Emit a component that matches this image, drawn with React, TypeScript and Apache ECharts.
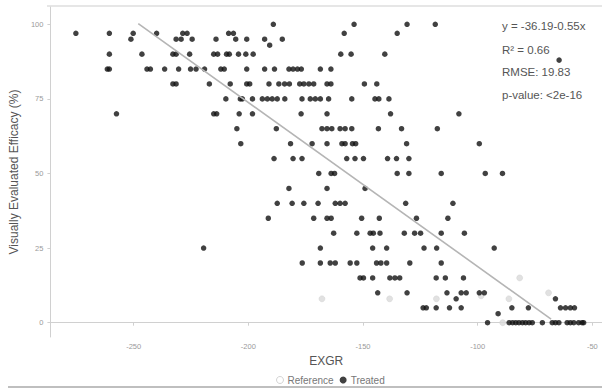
import React, { useEffect, useRef } from "react";
import * as echarts from "echarts";

// ---- data ----
const xTicks = [-250, -200, -150, -100, -50];
const yTicks = [0, 25, 50, 75, 100];

// Treated points, grouped by efficacy level (y) with their EXGR values (x)
const treatedLevels = [100, 97, 95, 93, 90, 88, 85, 80, 75, 70, 65, 60, 55, 50, 45, 40, 35, 30, 25, 20, 15, 10, 8, 5, 3, 0];
const treatedXByLevel = [
  [-189.1, -153.9, -130.8, -118.5],
  [-275.2, -260.6, -250.2, -240, -228.6, -226.7, -208.6, -206.5, -158.2, -135.1],
  [-251.2, -231.5, -229.3, -224.5, -214.1, -205.5, -200.7, -192.9, -185.2],
  [-190.7],
  [-260.6, -246.4, -232.9, -231.5, -225.6, -215.1, -213.4, -209.5, -208.3, -204.3, -201.1, -197.9, -159.7, -155.2, -140.5],
  [-64.5],
  [-261.5, -260.6, -244.2, -242.7, -236.5, -230.4, -225.2, -222.8, -219.1, -212, -210.5, -200.7, -192.9, -188.6, -182.3, -180.5, -178.6, -176.9, -168.6, -164],
  [-232.9, -231.5, -217, -207.9, -200.7, -199.4, -191, -186.7, -184.2, -182.1, -177.6, -175.8, -173.6, -171.5, -165.7, -164, -149.4, -144],
  [-209.8, -203.5, -202.6, -198.2, -193.9, -191.7, -189.6, -187.4, -184.1, -176.6, -173, -170.8, -168.6, -165, -154.9, -144.8, -143.1, -138.7],
  [-257.5, -215.1, -213.8, -204, -198.2, -177, -165.7, -138, -108.2],
  [-205, -187.8, -167.9, -165.7, -163.6, -160, -157.8, -154.9, -143.3, -133.2, -117.6],
  [-203.3, -181.6, -172.2, -165.7, -159.2, -157.8, -154.6, -153.2, -131, -99.3],
  [-188.8, -180.5, -176.6, -157.1, -153.5, -149.8, -139.3, -135.4, -130],
  [-169.3, -163.9, -162.4, -135.1, -130, -115.9, -96.7, -89.2],
  [-182.3, -165.7, -149.1],
  [-187.4, -180.9, -175.8, -169.6, -162.1, -160, -157.8, -131.4, -110.8],
  [-191.3, -171.5, -165.7, -163.9, -150.6, -142.9, -126.7, -113],
  [-162.8, -152.7, -146.9, -145.5, -142.6, -132, -127.5, -124.9, -115.9, -105.8],
  [-219.5, -168.6, -145.8, -139.7, -123.4, -117.9, -92.8],
  [-176.5, -168.6, -164.3, -162.1, -155.6, -152.7, -144.1, -142.2, -139.7, -129.6, -115.9],
  [-151.3, -149.8, -145.8, -138.3, -136.1, -134, -118.1, -114.1, -106.2],
  [-143.6, -130.8, -113.4, -107.2, -105, -99.3, -97.1],
  [-109.4, -66.1],
  [-123.8, -122.4, -118.1, -112.3, -107.2, -85.1, -77.9, -63.9, -61.7, -59.6, -57.8],
  [-91.1],
  [-95.7, -86.3, -84.8, -83.4, -82, -80.5, -79.1, -77.6, -76.2, -71.8, -67.5, -66.1, -64.6, -61, -59.6, -58.1, -56, -54.5, -53.8],
];

const referenceX = [-167.9, -138.4, -118, -98.5, -86.4, -81.7, -69.1, -89.1];
const referenceY = [8, 8, 8, 9, 8, 15, 10, 0];

// fitted line y = -36.19 - 0.55x, drawn over this EXGR span
const fitIntercept = -36.19;
const fitSlope = -0.55;
const fitXRange = [-248, -68];

const statLines = ["y = -36.19-0.55x", "R² = 0.66", "RMSE: 19.83", "p-value: <2e-16"];

export default function App() {
  const ref = useRef<HTMLDivElement>(null);

  useEffect(() => {
    if (!ref.current) return;
    const chart = echarts.init(ref.current, null, { renderer: "svg" });

    const treated: number[][] = [];
    treatedLevels.forEach((lvl, i) => {
      treatedXByLevel[i].forEach((x) => treated.push([x, lvl]));
    });
    const reference = referenceX.map((x, i) => [x, referenceY[i]]);
    const fit = fitXRange.map((x) => [x, fitIntercept + fitSlope * x]);

    const statTops = [27, 51, 73, 96];

    chart.setOption({
      animation: false,
      backgroundColor: "#ffffff",
      textStyle: { fontFamily: "Liberation Sans, Arial, sans-serif" },
      grid: { left: 47, right: 0, top: 7, bottom: 52, containLabel: false },
      xAxis: {
        type: "value",
        min: -286.3,
        max: -45.8,
        name: "EXGR",
        nameLocation: "middle",
        nameGap: 12,
        nameTextStyle: { fontSize: 12, color: "#555555", verticalAlign: "top" },
        axisLine: { show: true, lineStyle: { color: "#d0d0d0", width: 1 } },
        axisTick: { show: true, length: 3, lineStyle: { color: "#d0d0d0" }, customValues: xTicks },
        axisLabel: { color: "#9a9a9a", fontSize: 7.5, margin: 5, customValues: xTicks },
        splitLine: { show: false },
      },
      yAxis: {
        type: "value",
        min: -4.8,
        max: 105.8,
        name: "Visually Evaluated Efficacy (%)",
        nameLocation: "middle",
        nameGap: 21,
        nameTextStyle: { fontSize: 12, color: "#555555" },
        axisLine: { show: true, lineStyle: { color: "#d0d0d0", width: 1 } },
        axisTick: { show: true, length: 3, lineStyle: { color: "#d0d0d0" }, customValues: yTicks },
        axisLabel: { color: "#9a9a9a", fontSize: 7.5, margin: 7, customValues: yTicks },
        splitLine: { show: false },
      },
      legend: {
        left: 271,
        top: 370,
        itemWidth: 7,
        itemHeight: 7,
        itemGap: 6,
        icon: "circle",
        textStyle: { fontSize: 10, color: "#777777", padding: [0, 0, 0, -1] },
        data: [
          { name: "Reference", itemStyle: { color: "#ffffff", borderColor: "#c8c8c8", borderWidth: 1 } },
          { name: "Treated", itemStyle: { color: "#111111" } },
        ],
      },
      series: [
        {
          name: "Reference",
          type: "scatter",
          data: reference,
          symbolSize: 6,
          itemStyle: { color: "#dadada", borderColor: "#cccccc", borderWidth: 0.5 },
          z: 2,
        },
        {
          name: "Treated",
          type: "scatter",
          data: treated,
          symbolSize: 5.5,
          itemStyle: { color: "#111111" },
          z: 3,
        },
        {
          name: "fit",
          type: "line",
          data: fit,
          symbol: "none",
          lineStyle: { color: "#b5b5b5", width: 1.6 },
          z: 4,
        },
      ],
      graphic: [
        {
          type: "line",
          shape: { x1: 47, y1: 6, x2: 602, y2: 6 },
          style: { stroke: "#e6e6e6", lineWidth: 2 },
        },
        {
          type: "line",
          shape: { x1: 8, y1: 387, x2: 602, y2: 387 },
          style: { stroke: "#aaaaaa", lineWidth: 1.5 },
        },
        ...statLines.map((t, i) => ({
          type: "text",
          left: 502,
          top: statTops[i] - 7,
          style: { text: t, fontSize: 11.5, fill: "#555555", fontFamily: "Liberation Sans, Arial, sans-serif" },
        })),
      ],
    });

    return () => chart.dispose();
  }, []);

  return <div ref={ref} style={{ width: 602, height: 389, position: "absolute", left: 0, top: 0 }} />;
}
